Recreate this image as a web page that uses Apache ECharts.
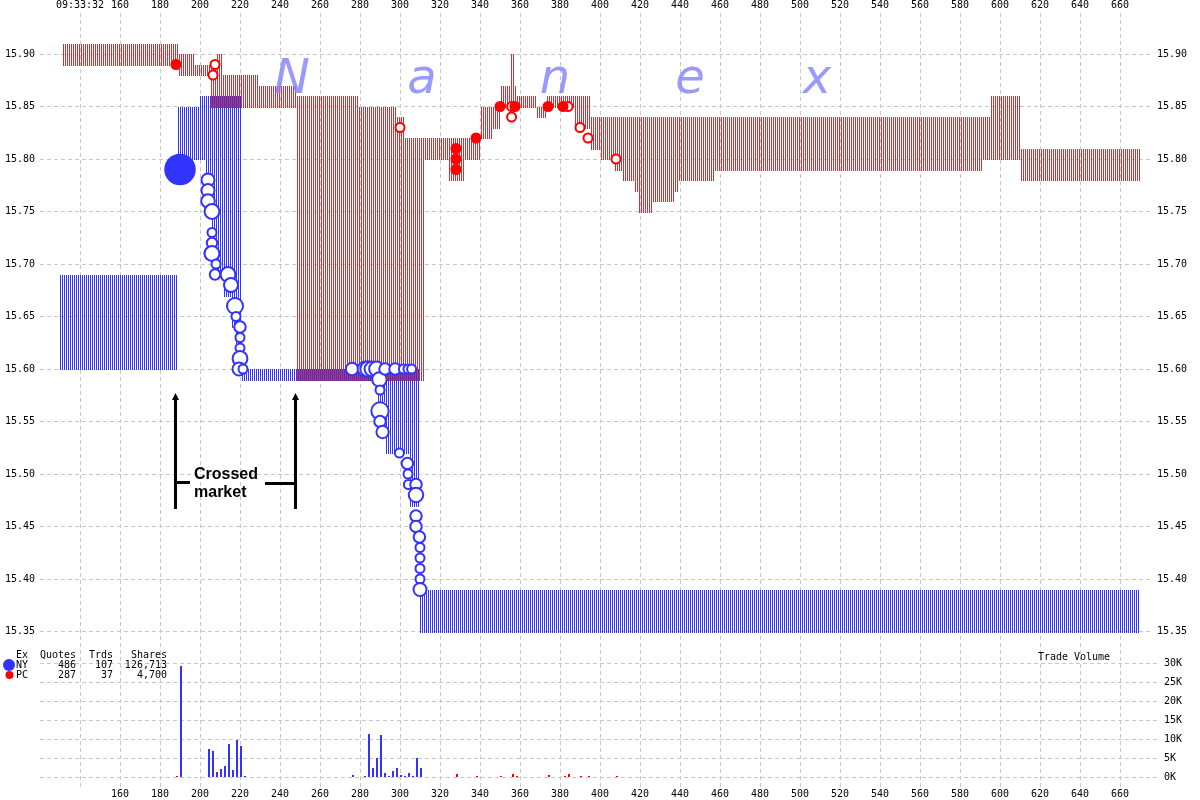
<!DOCTYPE html>
<html><head><meta charset="utf-8">
<script src="https://cdn.jsdelivr.net/npm/echarts@6/dist/echarts.min.js"></script>
<style>html,body{margin:0;padding:0;background:#fff}#c{width:1200px;height:800px}</style>
</head><body><div id="c"></div>
<script>
// ---------- DATA ----------
// time axis: seconds; first tick carries the clock label
const startTick = 140;
const startTimeLabel = '09:33:32';

// NY quotes: [tStart, tEnd, bid, ask]
const nyQuotes = [
  [130, 188.5, 15.60, 15.69],
  [188.5, 200, 15.80, 15.85],
  [200, 202.5, 15.80, 15.86],
  [202.5, 206, 15.75, 15.86],
  [206, 208, 15.71, 15.86],
  [208, 212, 15.69, 15.86],
  [212, 216, 15.67, 15.86],
  [216, 218, 15.64, 15.86],
  [218, 220.5, 15.60, 15.86],
  [220.5, 289, 15.59, 15.60],
  [289, 293, 15.57, 15.60],
  [293, 305, 15.52, 15.60],
  [305, 309.5, 15.47, 15.60],
  [310, 670, 15.35, 15.39]
];

// PC quotes: [tStart, tEnd, bid, ask]
const pcQuotes = [
  [130.5, 189, 15.89, 15.91],
  [189, 197, 15.88, 15.90],
  [197, 205, 15.88, 15.89],
  [205, 208, 15.85, 15.89],
  [208, 211, 15.85, 15.90],
  [211, 229, 15.85, 15.88],
  [229, 247.5, 15.85, 15.87],
  [247.5, 279, 15.59, 15.86],
  [279, 298, 15.59, 15.85],
  [298, 302, 15.59, 15.84],
  [302, 312, 15.59, 15.82],
  [312, 324, 15.80, 15.82],
  [324, 332, 15.78, 15.82],
  [332, 340, 15.80, 15.82],
  [340, 346, 15.82, 15.85],
  [346, 350, 15.83, 15.85],
  [350, 354.5, 15.85, 15.87],
  [354.5, 356.5, 15.85, 15.90],
  [356.5, 358, 15.85, 15.87],
  [358, 367.5, 15.85, 15.86],
  [367.5, 373, 15.84, 15.85],
  [373, 386.5, 15.85, 15.86],
  [386.5, 395, 15.83, 15.86],
  [395, 400, 15.81, 15.84],
  [400, 407, 15.80, 15.84],
  [407, 411, 15.79, 15.84],
  [411, 417, 15.78, 15.84],
  [417, 419, 15.77, 15.84],
  [419, 426, 15.75, 15.84],
  [426, 437, 15.76, 15.84],
  [437, 439, 15.77, 15.84],
  [439, 457, 15.78, 15.84],
  [457, 591, 15.79, 15.84],
  [591, 594.5, 15.80, 15.84],
  [594.5, 610, 15.80, 15.86],
  [610, 670, 15.78, 15.81]
];

// trades: [time, price, shares]
const nyTradesFilled = [[190, 15.79, 29300]];
const nyTrades = [
  [204, 15.78, 300], [204, 15.77, 300], [204, 15.76, 350], [206, 15.75, 500],
  [206, 15.73, 100], [206, 15.72, 150], [205.5, 15.71, 300], [206, 15.71, 500],
  [208, 15.70, 100], [207.5, 15.69, 150], [214, 15.69, 500], [215.5, 15.68, 400],
  [217.5, 15.66, 700], [218, 15.65, 100], [220, 15.64, 200], [220, 15.63, 100],
  [220, 15.62, 100], [220, 15.61, 500], [219.5, 15.60, 300], [221.5, 15.60, 100],
  [276, 15.60, 250], [282.5, 15.60, 500], [284, 15.60, 600], [286, 15.60, 500],
  [288.3, 15.60, 500], [289.7, 15.59, 450], [290, 15.58, 100], [290, 15.56, 1000],
  [290, 15.55, 200], [291.3, 15.54, 250], [292.5, 15.60, 200], [297.5, 15.60, 200],
  [299.7, 15.52, 100], [301.7, 15.60, 100], [303.7, 15.51, 200], [304, 15.60, 100],
  [304, 15.50, 100], [304.2, 15.49, 100], [305.8, 15.60, 100], [308, 15.49, 200],
  [308, 15.48, 450], [308, 15.46, 200], [308, 15.45, 200], [309.7, 15.44, 200],
  [310, 15.43, 100], [310, 15.42, 100], [310, 15.41, 100], [310, 15.40, 100],
  [310, 15.39, 300]
];
const pcTradesHollow = [
  [207.5, 15.89, 100], [206.5, 15.88, 100], [300, 15.83, 100], [355.8, 15.85, 100],
  [355.8, 15.84, 100], [384, 15.85, 100], [390, 15.83, 100], [394, 15.82, 100],
  [408, 15.80, 100]
];
const pcTradesFilled = [
  [188, 15.89, 100], [328, 15.81, 100], [328, 15.80, 100], [328, 15.79, 100],
  [338, 15.82, 100], [350, 15.85, 100], [357.5, 15.85, 100], [374, 15.85, 100],
  [381.5, 15.85, 100]
];

// trade volume per time: [time, shares]
const nyVolume = [
  [190, 29300], [204, 7400], [206, 6600], [208, 800], [210, 2200], [212, 2900],
  [214, 8700], [216, 1900], [218, 9800], [220, 8200], [222, 300],
  [276, 500], [282, 150], [284, 11400], [286, 2400], [288, 5000], [290, 11100],
  [292, 1100], [294, 150], [296, 1600], [298, 2400], [300, 400], [302, 350],
  [304, 1100], [306, 350], [308, 5000], [310, 2400]
];
const pcVolume = [
  [188, 300], [206, 300], [208, 500], [300, 250], [328, 800], [338, 200],
  [350, 200], [356, 800], [358, 200], [374, 400], [382, 200], [384, 800],
  [390, 200], [394, 200], [408, 200]
];

// stats table
const statsHeader = ['Ex', 'Quotes', 'Trds', 'Shares'];
const statsRows = [
  ['NY', '486', '107', '126,713'],
  ['PC', '287', '37', '4,700']
];
const watermark = ['N', 'a', 'n', 'e', 'x'];
const annotationText = ['Crossed', 'market'];
// annotation anchors in data units [time, priceBottom, priceTop]
const crossArrows = [[187.5, 15.4667, 15.5752], [247.5, 15.4667, 15.5752]];

// ---------- STYLE ----------
const NY_BLUE = '#3333ff', PC_RED = '#ff0000', PC_QUOTE = '#cc3333';
const mono = 'DejaVu Sans Mono';
const dashed = {show: true, lineStyle: {color: '#c8c8c8', type: [4, 3], width: 1}};

// each quote segment is drawn as one 1px vertical line per second
function bandRender(color, dx) {
  return function (params, api) {
    const t0 = api.value(0), t1 = api.value(1), bid = api.value(2), ask = api.value(3);
    const children = [];
    for (let t = Math.ceil(t0); t < t1; t++) {
      const a = api.coord([t, ask]);
      const b = api.coord([t, bid]);
      const x = Math.round(a[0]) + dx;
      const y0 = Math.round(a[1]), y1 = Math.round(b[1]) + 1;
      children.push({type: 'rect', shape: {x: x, y: y0, width: 1, height: y1 - y0}, style: {fill: color}});
    }
    return {type: 'group', children: children};
  };
}
const nyVolMap = new Map(nyVolume.map(d => [d[0], d[1]]));
function volRender(color, stackOn) {
  return function (params, api) {
    const t = api.value(0), v = api.value(1);
    const base = stackOn ? (stackOn.get(t) || 0) : 0;
    const top = api.coord([t, base + v]);
    const bot = api.coord([t, base]);
    const x = Math.round(top[0]);
    const yT = Math.round(top[1]), yB = Math.round(bot[1]);
    return {type: 'rect', shape: {x: x, y: yT, width: 2, height: Math.max(1, yB - yT)}, style: {fill: color}};
  };
}
function dotSize(s) { return 11 + 2.5 * Math.log2(s / 100); }

const labelBase = {fontFamily: mono, fontSize: 10, color: '#000'};

const option = {
  animation: false,
  backgroundColor: '#fff',
  grid: [
    {left: 40, width: 1110, top: 13, height: 774},
    {left: 40, width: 1110, top: 1.5, height: 630},
    {left: 40, width: 1120, top: 663.5, height: 113.5}
  ],
  xAxis: [
    {gridIndex: 0, type: 'value', position: 'top', min: 120, max: 675, interval: 20,
     axisLine: {show: false}, axisTick: {show: false},
     axisLabel: Object.assign({}, labelBase, {margin: 3, showMinLabel: false, showMaxLabel: false,
       formatter: v => v === startTick ? startTimeLabel : String(v)}),
     splitLine: Object.assign({}, dashed, {showMinLine: false, showMaxLine: false})},
    {gridIndex: 0, type: 'value', position: 'bottom', min: 120, max: 675, interval: 20,
     axisLine: {show: false}, axisTick: {show: false},
     axisLabel: Object.assign({}, labelBase, {margin: 2, showMinLabel: false, showMaxLabel: false,
       formatter: v => v === startTick ? '' : String(v)}),
     splitLine: {show: false}},
    {gridIndex: 1, type: 'value', min: 120, max: 675, show: false},
    {gridIndex: 2, type: 'value', min: 120, max: 680, show: false}
  ],
  yAxis: [
    {gridIndex: 0, type: 'value', min: 0, max: 1, show: false},
    {gridIndex: 1, type: 'value', position: 'left', min: 15.35, max: 15.95, interval: 0.05,
     axisLine: {show: false}, axisTick: {show: false},
     axisLabel: Object.assign({}, labelBase, {margin: 5, showMaxLabel: false, formatter: v => v.toFixed(2)}),
     splitLine: Object.assign({}, dashed, {showMaxLine: false})},
    {gridIndex: 1, type: 'value', position: 'right', min: 15.35, max: 15.95, interval: 0.05,
     axisLine: {show: false}, axisTick: {show: false},
     axisLabel: Object.assign({}, labelBase, {margin: 7, showMaxLabel: false, formatter: v => v.toFixed(2)}),
     splitLine: {show: false}},
    {gridIndex: 2, type: 'value', position: 'right', min: 0, max: 30000, interval: 5000,
     axisLine: {show: false}, axisTick: {show: false},
     axisLabel: Object.assign({}, labelBase, {margin: 4, formatter: v => (v / 1000) + 'K'}),
     splitLine: dashed}
  ],
  series: [
    {type: 'custom', name: 'NY quotes', xAxisIndex: 2, yAxisIndex: 1, silent: true,
     encode: {x: [0, 1], y: [2, 3]}, renderItem: bandRender(NY_BLUE, 0), data: nyQuotes},
    {type: 'custom', name: 'PC quotes', xAxisIndex: 2, yAxisIndex: 1, silent: true,
     encode: {x: [0, 1], y: [2, 3]}, renderItem: bandRender(PC_QUOTE, 1), data: pcQuotes},
    {type: 'scatter', name: 'NY big', xAxisIndex: 2, yAxisIndex: 1, silent: true,
     symbol: 'circle', symbolSize: v => dotSize(v[2]), itemStyle: {color: NY_BLUE, opacity: 1},
     data: nyTradesFilled},
    {type: 'scatter', name: 'NY', xAxisIndex: 2, yAxisIndex: 1, silent: true,
     symbol: 'circle', symbolSize: v => dotSize(v[2]) - 2,
     itemStyle: {color: '#fff', borderColor: NY_BLUE, borderWidth: 2, opacity: 1}, data: nyTrades},
    {type: 'scatter', name: 'PC hollow', xAxisIndex: 2, yAxisIndex: 1, silent: true,
     symbol: 'circle', symbolSize: v => dotSize(v[2]) - 2,
     itemStyle: {color: '#fff', borderColor: PC_RED, borderWidth: 2, opacity: 1}, data: pcTradesHollow},
    {type: 'scatter', name: 'PC', xAxisIndex: 2, yAxisIndex: 1, silent: true,
     symbol: 'circle', symbolSize: v => dotSize(v[2]),
     itemStyle: {color: PC_RED, opacity: 1}, data: pcTradesFilled},
    {type: 'custom', name: 'NY volume', xAxisIndex: 3, yAxisIndex: 3, silent: true,
     encode: {x: 0, y: 1}, renderItem: volRender(NY_BLUE, null), data: nyVolume},
    {type: 'custom', name: 'PC volume', xAxisIndex: 3, yAxisIndex: 3, silent: true,
     encode: {x: 0, y: 1}, renderItem: volRender(PC_RED, nyVolMap), data: pcVolume}
  ]
};

const chart = echarts.init(document.getElementById('c'), null, {renderer: 'canvas'});
chart.setOption(option);

// ---------- text overlays ----------
const g = [];
const wmCenters = [292, 422, 555, 690, 817];
watermark.forEach((ch, i) => g.push({type: 'text', z: 50, x: wmCenters[i], y: 81,
  style: {text: ch, font: 'italic 48px "DejaVu Sans"', fill: 'rgba(128,128,255,0.8)', align: 'center', verticalAlign: 'middle'}}));

const colRight = [28, 76, 113, 167];
const rowY = [655, 665, 675];
statsHeader.forEach((t, i) => g.push({type: 'text', z: 50, x: colRight[i], y: rowY[0],
  style: {text: t, font: '10px "' + mono + '"', fill: '#000', align: 'right', verticalAlign: 'middle'}}));
statsRows.forEach((row, r) => {
  row.forEach((t, i) => g.push({type: 'text', z: 50, x: i === 0 ? 16 : colRight[i], y: rowY[r + 1],
    style: {text: t, font: '10px "' + mono + '"', fill: '#000', align: i === 0 ? 'left' : 'right', verticalAlign: 'middle'}}));
});
g.push({type: 'circle', z: 49, shape: {cx: 9, cy: 665, r: 6}, style: {fill: NY_BLUE}});
g.push({type: 'circle', z: 49, shape: {cx: 9.5, cy: 675, r: 4}, style: {fill: PC_RED}});
g.push({type: 'text', z: 50, x: 1074, y: 657.5,
  style: {text: 'Trade Volume', font: '10px "' + mono + '"', fill: '#000', align: 'center', verticalAlign: 'middle'}});

// crossed market annotation, positioned from data units
const toPx = (t, p) => chart.convertToPixel({xAxisIndex: 2, yAxisIndex: 1}, [t, p]);
crossArrows.forEach(a => {
  const bot = toPx(a[0], a[1]), top = toPx(a[0], a[2]);
  const x = Math.round(bot[0]) + 0.5;
  g.push({type: 'line', z: 50, shape: {x1: x, y1: bot[1], x2: x, y2: top[1] + 4}, style: {stroke: '#000', lineWidth: 3}});
  g.push({type: 'polygon', z: 50, shape: {points: [[x - 3.5, top[1] + 5], [x + 3.5, top[1] + 5], [x, top[1] - 2]]}, style: {fill: '#000'}});
});
const tickL = [toPx(187.5, 15.4924), toPx(195, 15.4924)];
const tickR = [toPx(232.5, 15.4915), toPx(247.5, 15.4915)];
[tickL, tickR].forEach(tk => g.push({type: 'line', z: 50,
  shape: {x1: tk[0][0], y1: Math.round(tk[0][1]) + 0.5, x2: tk[1][0], y2: Math.round(tk[1][1]) + 0.5}, style: {stroke: '#000', lineWidth: 3}}));
const txt1 = toPx(197, 15.499), txt2 = toPx(197, 15.4819);
g.push({type: 'text', z: 50, x: txt1[0], y: txt1[1], style: {text: annotationText[0], font: 'bold 16px "Liberation Sans"', fill: '#000', align: 'left', verticalAlign: 'middle'}});
g.push({type: 'text', z: 50, x: txt2[0], y: txt2[1], style: {text: annotationText[1], font: 'bold 16px "Liberation Sans"', fill: '#000', align: 'left', verticalAlign: 'middle'}});

chart.setOption({graphic: g});
</script></body></html>
